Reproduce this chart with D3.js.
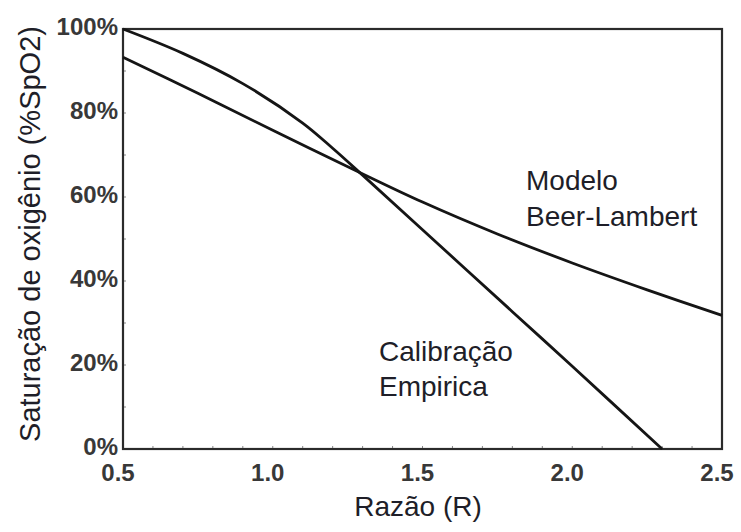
<!DOCTYPE html>
<html>
<head>
<meta charset="utf-8">
<script src="https://cdn.jsdelivr.net/npm/d3@7"></script>
<style>
  body { margin: 0; background: #fff; }
  svg { display: block; font-family: "Liberation Sans", Arial, sans-serif; }
</style>
</head>
<body>
<svg id="chart" width="741" height="532"></svg>
<script>
// razao R vs saturacao (%)
var beerR    = [0.5, 0.75, 1.0, 1.28, 1.5, 1.75, 2.0, 2.25, 2.5];
var beerSat  = [93.3, 84.7, 75.9, 66.2, 58.8, 51.2, 44.3, 37.9, 31.8];
var empR     = [0.5, 0.7, 0.9, 1.1, 1.2, 1.3, 1.5, 1.8, 2.0, 2.3];
var empSat   = [100, 94.2, 87.0, 77.6, 71.6, 65.2, 52.2, 32.7, 19.7, 0];
var xTicks   = [0.5, 1.0, 1.5, 2.0, 2.5];
var yTicks   = [0, 20, 40, 60, 80, 100];

(function() {
  var svg = d3.select('#chart');
  var plotL = 123, plotR = 722, plotT = 29, plotB = 449;
  var ink = '#2b2b2b';

  var x = d3.scaleLinear().domain([0.5, 2.5]).range([plotL, plotR]);
  var y = d3.scaleLinear().domain([0, 100]).range([plotB, plotT]);

  // minor ticks, inside the frame
  var minorX = d3.range(5, 26).map(function(d) { return d / 10; });
  svg.append('g').selectAll('line').data(minorX).enter().append('line')
    .attr('x1', function(d) { return x(d); }).attr('x2', function(d) { return x(d); })
    .attr('y1', plotB).attr('y2', plotB - 3)
    .attr('stroke', '#888').attr('stroke-width', 1);
  var minorY = d3.range(0, 101, 10);
  svg.append('g').selectAll('line').data(minorY).enter().append('line')
    .attr('x1', plotL).attr('x2', plotL + 3)
    .attr('y1', function(d) { return y(d); }).attr('y2', function(d) { return y(d); })
    .attr('stroke', '#888').attr('stroke-width', 1);

  // frame
  svg.append('rect')
    .attr('x', plotL).attr('y', plotT)
    .attr('width', plotR - plotL).attr('height', plotB - plotT)
    .attr('fill', 'none').attr('stroke', ink).attr('stroke-width', 2.2);

  // tick labels
  svg.append('g').selectAll('text').data(xTicks).enter().append('text')
    .attr('x', function(d) { return x(d) - 5; })
    .attr('y', 481)
    .attr('text-anchor', 'middle')
    .attr('font-size', 24).attr('font-weight', 'bold').attr('fill', '#383838')
    .text(function(d) { return d.toFixed(1); });

  svg.append('g').selectAll('text').data(yTicks).enter().append('text')
    .attr('x', 118)
    .attr('y', function(d) { return y(d) + 5.5; })
    .attr('text-anchor', 'end')
    .attr('font-size', 24).attr('font-weight', 'bold').attr('fill', '#383838')
    .text(function(d) { return d + '%'; });

  // curves
  var line = d3.line()
    .x(function(d) { return x(d[0]); })
    .y(function(d) { return y(d[1]); })
    .curve(d3.curveCatmullRom.alpha(0.5));

  svg.append('path')
    .datum(d3.zip(beerR, beerSat))
    .attr('d', line)
    .attr('fill', 'none').attr('stroke', '#151515').attr('stroke-width', 2.8);

  svg.append('path')
    .datum(d3.zip(empR, empSat))
    .attr('d', line)
    .attr('fill', 'none').attr('stroke', '#151515').attr('stroke-width', 2.8);

  // annotations
  var notes = [
    { t: 'Modelo', x: 526, y: 190 },
    { t: 'Beer-Lambert', x: 526, y: 226 },
    { t: 'Calibração', x: 379, y: 361 },
    { t: 'Empirica', x: 379, y: 396 }
  ];
  svg.append('g').selectAll('text').data(notes).enter().append('text')
    .attr('x', function(d) { return d.x; })
    .attr('y', function(d) { return d.y; })
    .attr('font-size', 28).attr('fill', '#1e1e28')
    .text(function(d) { return d.t; });

  // axis titles
  svg.append('text')
    .attr('x', 418).attr('y', 516)
    .attr('text-anchor', 'middle')
    .attr('font-size', 28).attr('fill', '#1e1e28')
    .text('Razão (R)');

  svg.append('text')
    .attr('transform', 'translate(40,234) rotate(-90)')
    .attr('text-anchor', 'middle')
    .attr('font-size', 29).attr('fill', '#1e1e28')
    .text('Saturação de oxigênio (%SpO2)');
})();
</script>
</body>
</html>
